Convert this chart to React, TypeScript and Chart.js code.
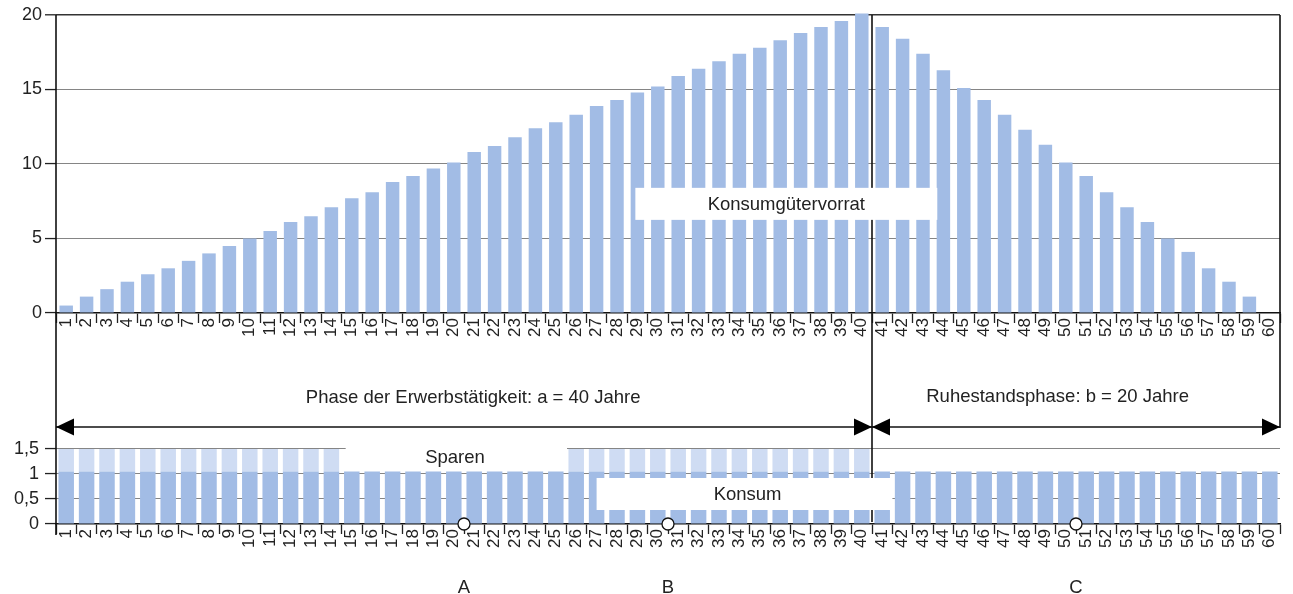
import React, { useEffect, useRef } from "react";
import { Chart, registerables } from "chart.js";

Chart.register(...registerables);

const FONT = "'Liberation Sans', Arial, Helvetica, sans-serif";
const TEXT = "#222222";
const DARK = "#a2bce5";
const LIGHT = "#cfdcf3";
const ANNOT_FONT = `18.5px ${FONT}`;

const years = [
  "1","2","3","4","5","6","7","8","9","10","11","12","13","14","15","16","17","18","19","20",
  "21","22","23","24","25","26","27","28","29","30","31","32","33","34","35","36","37","38","39","40",
  "41","42","43","44","45","46","47","48","49","50","51","52","53","54","55","56","57","58","59","60",
];

const vorrat = [
  0.5, 1.1, 1.6, 2.1, 2.6, 3.0, 3.5, 4.0, 4.5, 5.0, 5.5, 6.1, 6.5, 7.1, 7.7, 8.1, 8.8, 9.2, 9.7, 10.1,
  10.8, 11.2, 11.8, 12.4, 12.8, 13.3, 13.9, 14.3, 14.8, 15.2, 15.9, 16.4, 16.9, 17.4, 17.8, 18.3, 18.8, 19.2, 19.6, 20.1,
  19.2, 18.4, 17.4, 16.3, 15.1, 14.3, 13.3, 12.3, 11.3, 10.1, 9.2, 8.1, 7.1, 6.1, 5.0, 4.1, 3.0, 2.1, 1.1, 0,
];

const konsum = [
  1.05, 1.05, 1.05, 1.05, 1.05, 1.05, 1.05, 1.05, 1.05, 1.05, 1.05, 1.05, 1.05, 1.05, 1.05, 1.05, 1.05, 1.05, 1.05, 1.05,
  1.05, 1.05, 1.05, 1.05, 1.05, 1.05, 1.05, 1.05, 1.05, 1.05, 1.05, 1.05, 1.05, 1.05, 1.05, 1.05, 1.05, 1.05, 1.05, 1.05,
  1.05, 1.05, 1.05, 1.05, 1.05, 1.05, 1.05, 1.05, 1.05, 1.05, 1.05, 1.05, 1.05, 1.05, 1.05, 1.05, 1.05, 1.05, 1.05, 1.05,
];

const sparen = [
  0.45, 0.45, 0.45, 0.45, 0.45, 0.45, 0.45, 0.45, 0.45, 0.45, 0.45, 0.45, 0.45, 0.45, 0, 0, 0, 0, 0, 0,
  0, 0, 0, 0, 0, 0.45, 0.45, 0.45, 0.45, 0.45, 0.45, 0.45, 0.45, 0.45, 0.45, 0.45, 0.45, 0.45, 0.45, 0.45,
  0, 0, 0, 0, 0, 0, 0, 0, 0, 0, 0, 0, 0, 0, 0, 0, 0, 0, 0, 0,
];

const topTicks = [0, 5, 10, 15, 20];
const bottomTicks = [0, 0.5, 1, 1.5];
const bottomTickLabels = ["0", "0,5", "1", "1,5"];

const phaseLabels = ["Phase der Erwerbstätigkeit: a = 40 Jahre", "Ruhestandsphase: b = 20 Jahre"];
const markerNames = ["A", "B", "C"];
const markerAfterYear = [20, 30, 50];

function line(ctx: CanvasRenderingContext2D, x1: number, y1: number, x2: number, y2: number) {
  ctx.beginPath();
  ctx.moveTo(x1, y1);
  ctx.lineTo(x2, y2);
  ctx.stroke();
}

function arrowHead(ctx: CanvasRenderingContext2D, tipX: number, y: number, dir: number) {
  ctx.beginPath();
  ctx.moveTo(tipX, y);
  ctx.lineTo(tipX - dir * 18, y - 8.5);
  ctx.lineTo(tipX - dir * 18, y + 8.5);
  ctx.closePath();
  ctx.fill();
}

const topPlugin = {
  id: "topAnnot",
  afterDraw(chart: any) {
    const { ctx, chartArea: a } = chart;
    const x = chart.scales.x;
    const y = chart.scales.y;
    const split = (x.getPixelForValue(39) + x.getPixelForValue(40)) / 2;
    ctx.save();
    ctx.strokeStyle = "#111";
    ctx.lineWidth = 1.6;
    line(ctx, a.left, a.top, a.left, chart.height);
    line(ctx, a.right, a.top, a.right, a.bottom + 115);
    line(ctx, split, a.top, split, chart.height);

    // label box
    const bx0 = x.getPixelForValue(27.9);
    const bx1 = x.getPixelForValue(42.7);
    const by0 = y.getPixelForValue(8.4);
    const by1 = y.getPixelForValue(6.25);
    ctx.fillStyle = "#fff";
    ctx.fillRect(bx0, by0, bx1 - bx0, by1 - by0);
    ctx.fillStyle = TEXT;
    ctx.font = ANNOT_FONT;
    ctx.textAlign = "center";
    ctx.textBaseline = "middle";
    ctx.fillText("Konsumgütervorrat", x.getPixelForValue(35.3), (by0 + by1) / 2 + 1);

    // phase texts
    ctx.fillText(phaseLabels[0], x.getPixelForValue(19.95), a.bottom + 85);
    ctx.fillText(phaseLabels[1], x.getPixelForValue(48.6), a.bottom + 84);

    // arrows
    const ay = a.bottom + 114;
    ctx.lineWidth = 1.6;
    line(ctx, a.left, ay, a.right, ay);
    ctx.fillStyle = "#000";
    arrowHead(ctx, a.left, ay, -1);
    arrowHead(ctx, split, ay, 1);
    arrowHead(ctx, split, ay, -1);
    arrowHead(ctx, a.right, ay, 1);
    ctx.restore();
  },
};

const bottomPlugin = {
  id: "bottomAnnot",
  afterDraw(chart: any) {
    const { ctx, chartArea: a } = chart;
    const x = chart.scales.x;
    const y = chart.scales.y;
    const split = (x.getPixelForValue(39) + x.getPixelForValue(40)) / 2;
    ctx.save();
    ctx.strokeStyle = "#111";
    ctx.lineWidth = 1.6;
    line(ctx, a.left, 0, a.left, a.bottom + 11);

    // Sparen box
    const sx0 = x.getPixelForValue(13.7);
    const sx1 = x.getPixelForValue(24.55);
    const sy1 = y.getPixelForValue(1.05) - 1.5;
    ctx.fillStyle = "#fff";
    ctx.fillRect(sx0, 0, sx1 - sx0, sy1);
    ctx.fillStyle = TEXT;
    ctx.font = ANNOT_FONT;
    ctx.textAlign = "center";
    ctx.textBaseline = "middle";
    ctx.fillText("Sparen", x.getPixelForValue(19.06), a.top + 9);

    // split line
    ctx.strokeStyle = "#111";
    line(ctx, split, 0, split, a.bottom - 2);

    // Konsum box
    const kx0 = x.getPixelForValue(26.0);
    const kx1 = x.getPixelForValue(40.5);
    const ky0 = y.getPixelForValue(0.92);
    const ky1 = y.getPixelForValue(0.28);
    ctx.fillStyle = "#fff";
    ctx.fillRect(kx0, ky0, kx1 - kx0, ky1 - ky0);
    ctx.fillStyle = TEXT;
    ctx.fillText("Konsum", x.getPixelForValue(33.4), (ky0 + ky1) / 2 + 1);

    // markers
    markerAfterYear.forEach((yr, i) => {
      const px = x.getPixelForValue(yr - 0.5);
      ctx.beginPath();
      ctx.arc(px, a.bottom, 6, 0, Math.PI * 2);
      ctx.fillStyle = "#fff";
      ctx.fill();
      ctx.lineWidth = 1.3;
      ctx.strokeStyle = "#111";
      ctx.stroke();
      ctx.fillStyle = TEXT;
      ctx.fillText(markerNames[i], px, a.bottom + 64);
    });
    ctx.restore();
  },
};

function xScale(height: number) {
  return {
    type: "category" as const,
    offset: true,
    stacked: true,
    grid: {
      offset: true,
      drawOnChartArea: false,
      drawTicks: true,
      tickLength: 10,
      tickColor: "#222",
      tickWidth: 1.3,
    },
    border: { display: true, color: "#111", width: 1.6 },
    ticks: {
      autoSkip: false,
      maxRotation: 90,
      minRotation: 90,
      padding: -5,
      color: TEXT,
      font: { size: 17, family: FONT },
    },
    afterFit: (s: any) => {
      s.height = height;
      s.paddingLeft = 0;
      s.paddingRight = 0;
    },
  };
}

export default function App() {
  const topRef = useRef<HTMLCanvasElement>(null);
  const botRef = useRef<HTMLCanvasElement>(null);

  useEffect(() => {
    Chart.defaults.font.family = FONT;
    const top = new Chart(topRef.current!, {
      type: "bar",
      data: {
        labels: years,
        datasets: [
          {
            label: "Konsumgütervorrat",
            data: vorrat,
            backgroundColor: DARK,
            barPercentage: 0.66,
            categoryPercentage: 1,
            clip: 4,
          } as any,
        ],
      },
      options: {
        animation: false,
        responsive: false,
        devicePixelRatio: 1,
        layout: { padding: { left: 0, right: 13, top: 15, bottom: 0 } },
        plugins: { legend: { display: false }, tooltip: { enabled: false } },
        scales: {
          x: xScale(127) as any,
          y: {
            min: 0,
            max: 20,
            afterBuildTicks: (s: any) => {
              s.ticks = topTicks.map((v) => ({ value: v }));
            },
            ticks: { color: TEXT, font: { size: 18, family: FONT }, padding: 3 },
            grid: {
              color: (c: any) => (c.tick && c.tick.value === 20 ? "#333" : c.tick && c.tick.value === 0 ? "#111" : "#858585"),
              lineWidth: (c: any) => (c.tick && c.tick.value === 20 ? 1.6 : 1.1),
              drawTicks: true,
              tickLength: 11,
              tickColor: "#222",
              tickWidth: 1.3,
            },
            border: { display: false },
            afterFit: (s: any) => {
              s.width = 56;
              s.paddingTop = 0;
              s.paddingBottom = 0;
            },
          } as any,
        },
      },
      plugins: [topPlugin],
    });

    const bottom = new Chart(botRef.current!, {
      type: "bar",
      data: {
        labels: years,
        datasets: [
          {
            label: "Konsum",
            data: konsum,
            backgroundColor: DARK,
            barPercentage: 0.76,
            categoryPercentage: 1,
          },
          {
            label: "Sparen",
            data: sparen,
            backgroundColor: LIGHT,
            barPercentage: 0.76,
            categoryPercentage: 1,
          },
        ],
      },
      options: {
        animation: false,
        responsive: false,
        devicePixelRatio: 1,
        layout: { padding: { left: 0, right: 13, top: 9, bottom: 0 } },
        plugins: { legend: { display: false }, tooltip: { enabled: false } },
        scales: {
          x: xScale(70) as any,
          y: {
            min: 0,
            max: 1.5,
            stacked: true,
            afterBuildTicks: (s: any) => {
              s.ticks = bottomTicks.map((v) => ({ value: v }));
            },
            ticks: {
              color: TEXT,
              font: { size: 18, family: FONT },
              padding: 6,
              callback: (v: any) => {
                const i = bottomTicks.indexOf(Number(v));
                return i >= 0 ? bottomTickLabels[i] : "";
              },
            },
            grid: {
              color: (c: any) => (c.tick && c.tick.value === 0 ? "#111" : "#858585"),
              lineWidth: 1.1,
              drawTicks: true,
              tickLength: 11,
              tickColor: "#222",
              tickWidth: 1.3,
            },
            border: { display: false },
            afterFit: (s: any) => {
              s.width = 56;
              s.paddingTop = 0;
              s.paddingBottom = 0;
            },
          } as any,
        },
      },
      plugins: [bottomPlugin],
    });

    return () => {
      top.destroy();
      bottom.destroy();
    };
  }, []);

  return (
    <div style={{ position: "fixed", left: 0, top: 0, width: 1293, height: 594, background: "#fff", overflow: "hidden" }}>
      <canvas ref={topRef} width={1293} height={440} style={{ position: "absolute", left: 0, top: 0, width: 1293, height: 440 }} />
      <canvas ref={botRef} width={1293} height={154} style={{ position: "absolute", left: 0, top: 440, width: 1293, height: 154 }} />
    </div>
  );
}
